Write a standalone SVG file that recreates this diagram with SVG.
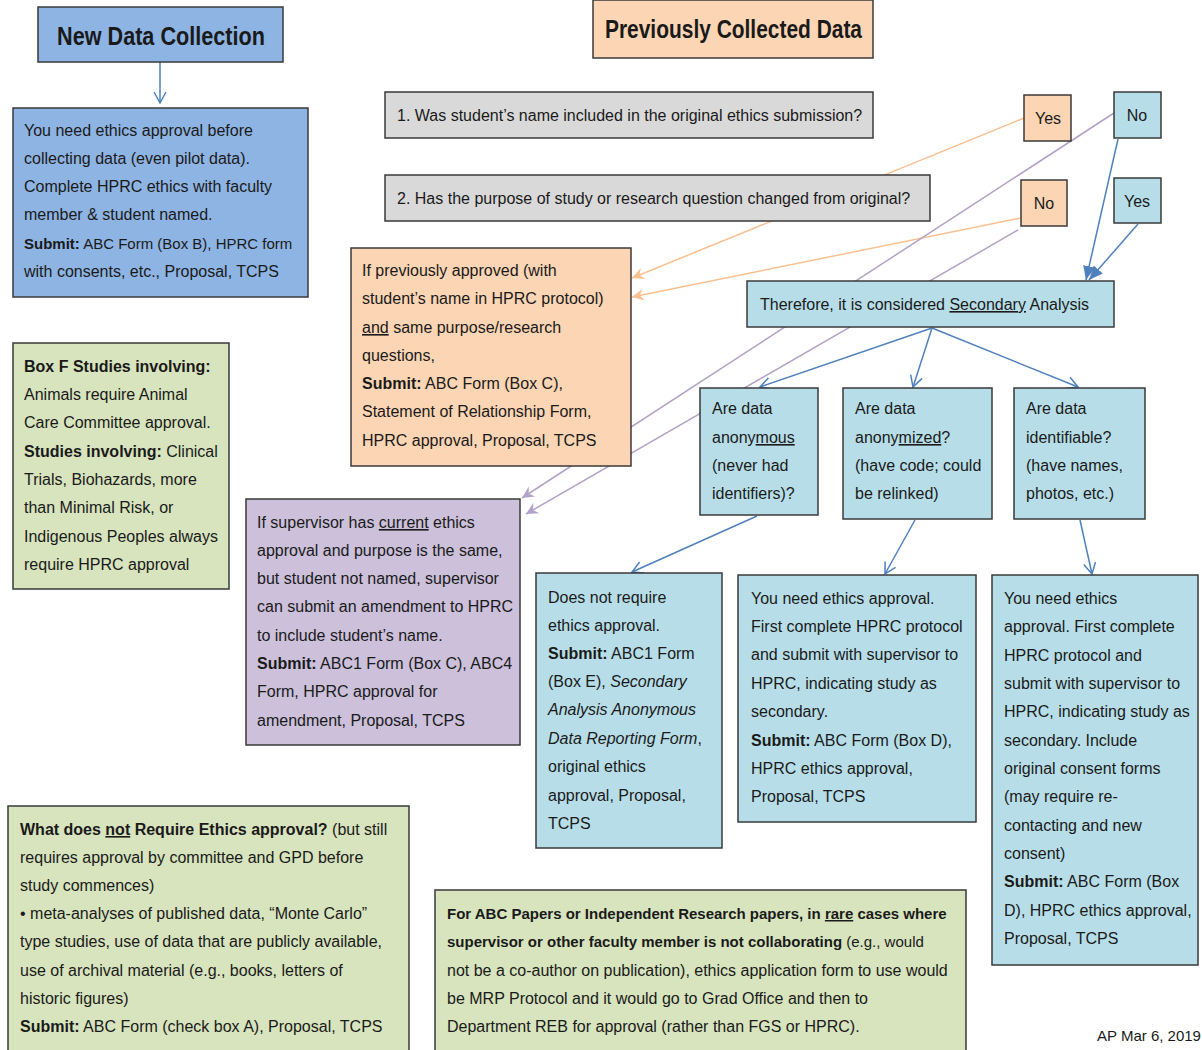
<svg xmlns="http://www.w3.org/2000/svg" width="1202" height="1050" viewBox="0 0 1202 1050">
<defs>
<style>
.box{stroke:#3a3a3a;stroke-width:1.5}
.blue{fill:#8eb4e3}.peach{fill:#fcd5b4}.gray{fill:#d9d9d9}.lb{fill:#b7dee8}.pur{fill:#ccc0da}.grn{fill:#d7e4bd}
text{font-family:"Liberation Sans",Arial,sans-serif;font-size:16px;fill:#1a1a1a}
.t{font-size:26px;font-weight:bold}
.s{font-size:15px}
.b{font-weight:bold}.u{text-decoration:underline}.i{font-style:italic}
.cb{stroke:#4f81bd;stroke-width:1.5;fill:none}
.co{stroke:#fac090;stroke-width:1.5;fill:none}
.cp{stroke:#b3a2c7;stroke-width:1.5;fill:none}
</style>
<marker id="ab" markerWidth="14" markerHeight="14" refX="12" refY="7" orient="auto" markerUnits="userSpaceOnUse"><path d="M1,1 L12,7 L1,13" fill="none" stroke="#4f81bd" stroke-width="1.5"/></marker>
<marker id="abf" markerWidth="16" markerHeight="14" refX="14" refY="7" orient="auto" markerUnits="userSpaceOnUse"><path d="M0,1 L14,7 L0,13 z" fill="#4f81bd"/></marker>
<marker id="ao" markerWidth="14" markerHeight="14" refX="12" refY="7" orient="auto" markerUnits="userSpaceOnUse"><path d="M0,1 L12,7 L0,13 L4,7 z" fill="#fac090"/></marker>
<marker id="ap" markerWidth="14" markerHeight="14" refX="12" refY="7" orient="auto" markerUnits="userSpaceOnUse"><path d="M0,1 L12,7 L0,13 L4,7 z" fill="#b3a2c7"/></marker>
</defs>
<rect width="1202" height="1050" fill="#ffffff"/>

<g id="connectors">
<line class="cb" x1="160" y1="62" x2="160" y2="103" marker-end="url(#ab)"/>
<line class="co" x1="1024" y1="118" x2="632" y2="278" marker-end="url(#ao)"/>
<line class="co" x1="1021" y1="218" x2="632" y2="297" marker-end="url(#ao)"/>
<line class="cp" x1="1114" y1="113" x2="522" y2="498" marker-end="url(#ap)"/>
<line class="cp" x1="1018" y1="230" x2="526" y2="514" marker-end="url(#ap)"/>
<line class="cb" x1="1118" y1="139" x2="1086" y2="280" marker-end="url(#abf)"/>
<line class="cb" x1="1138" y1="224" x2="1089" y2="280" marker-end="url(#abf)"/>
<line class="cb" x1="932" y1="328" x2="760" y2="387" marker-end="url(#ab)"/>
<line class="cb" x1="932" y1="328" x2="913" y2="387" marker-end="url(#ab)"/>
<line class="cb" x1="932" y1="328" x2="1078" y2="387" marker-end="url(#ab)"/>
<line class="cb" x1="757" y1="516" x2="632" y2="572" marker-end="url(#ab)"/>
<line class="cb" x1="915" y1="520" x2="885" y2="574" marker-end="url(#ab)"/>
<line class="cb" x1="1080" y1="520" x2="1092" y2="574" marker-end="url(#ab)"/>
</g>

<g id="new-data">
<rect class="box blue" x="38" y="7" width="245" height="55"/>
<text class="t" x="57" y="45" textLength="208" lengthAdjust="spacingAndGlyphs">New Data Collection</text>
</g>

<g id="new-data-approval">
<rect class="box blue" x="13" y="108" width="295" height="189"/>
<text x="24" y="136">You need  ethics approval before</text>
<text x="24" y="164">collecting data (even pilot data).</text>
<text x="24" y="192">Complete  HPRC ethics with faculty</text>
<text x="24" y="220">member  &amp; student named.</text>
<text x="24" y="249" class="s"><tspan class="b">Submit:</tspan> ABC Form (Box B), HPRC form</text>
<text x="24" y="277">with consents, etc.,  Proposal, TCPS</text>
</g>

<g id="prev-data">
<rect class="box peach" x="593" y="0" width="280" height="58"/>
<text class="t" x="605" y="38" textLength="257" lengthAdjust="spacingAndGlyphs">Previously Collected Data</text>
</g>

<g id="q1">
<rect class="box gray" x="385" y="92" width="488" height="46"/>
<text x="397" y="121">1. Was student’s name included in the original ethics submission?</text>
</g>

<g id="q2">
<rect class="box gray" x="385" y="175" width="545" height="46"/>
<text x="397" y="204">2. Has the purpose of study or research question changed from original?</text>
</g>

<g id="q1-yes">
<rect class="box peach" x="1024" y="95" width="47" height="46"/>
<text x="1048" y="124" text-anchor="middle">Yes</text>
</g>
<g id="q1-no">
<rect class="box lb" x="1114" y="92" width="47" height="46"/>
<text x="1137" y="121" text-anchor="middle">No</text>
</g>
<g id="q2-no">
<rect class="box peach" x="1021" y="180" width="46" height="46"/>
<text x="1044" y="209" text-anchor="middle">No</text>
</g>
<g id="q2-yes">
<rect class="box lb" x="1114" y="178" width="47" height="45"/>
<text x="1137" y="207" text-anchor="middle">Yes</text>
</g>

<g id="prev-approved">
<rect class="box peach" x="351" y="248" width="280" height="218"/>
<text x="362" y="276">If previously approved (with</text>
<text x="362" y="304">student’s name  in HPRC protocol)</text>
<text x="362" y="333"><tspan class="u">and</tspan> same purpose/research</text>
<text x="362" y="361">questions,</text>
<text x="362" y="389"><tspan class="b">Submit:</tspan> ABC Form (Box C),</text>
<text x="362" y="417">Statement  of Relationship Form,</text>
<text x="362" y="446">HPRC approval, Proposal, TCPS</text>
</g>

<g id="secondary">
<rect class="box lb" x="747" y="281" width="367" height="46"/>
<text x="760" y="310">Therefore,  it is considered <tspan class="u">Secondary</tspan> Analysis</text>
</g>

<g id="anonymous">
<rect class="box lb" x="700" y="388" width="118" height="127"/>
<text x="712" y="414">Are data</text>
<text x="712" y="443">anony<tspan class="u">mous</tspan></text>
<text x="712" y="471">(never had</text>
<text x="712" y="499">identifiers)?</text>
</g>

<g id="anonymized">
<rect class="box lb" x="843" y="388" width="149" height="131"/>
<text x="855" y="414">Are data</text>
<text x="855" y="443">anony<tspan class="u">mized</tspan>?</text>
<text x="855" y="471">(have code; could</text>
<text x="855" y="499">be relinked)</text>
</g>

<g id="identifiable">
<rect class="box lb" x="1014" y="388" width="131" height="131"/>
<text x="1026" y="414">Are data</text>
<text x="1026" y="443">identifiable?</text>
<text x="1026" y="471">(have names,</text>
<text x="1026" y="499">photos, etc.)</text>
</g>

<g id="box-f">
<rect class="box grn" x="13" y="343" width="216" height="246"/>
<text x="24" y="372" class="b">Box F Studies involving:</text>
<text x="24" y="400">Animals require Animal</text>
<text x="24" y="428">Care Committee  approval.</text>
<text x="24" y="457"><tspan class="b">Studies involving:</tspan>  Clinical</text>
<text x="24" y="485">Trials,  Biohazards, more</text>
<text x="24" y="513">than Minimal Risk, or</text>
<text x="24" y="542">Indigenous Peoples always</text>
<text x="24" y="570">require HPRC approval</text>
</g>

<g id="amendment">
<rect class="box pur" x="246" y="499" width="274" height="246"/>
<text x="257" y="528">If supervisor has <tspan class="u">current</tspan> ethics</text>
<text x="257" y="556">approval and purpose is the same,</text>
<text x="257" y="584">but student not named, supervisor</text>
<text x="257" y="612">can submit an amendment  to HPRC</text>
<text x="257" y="641">to include student’s name.</text>
<text x="257" y="669"><tspan class="b">Submit:</tspan> ABC1 Form (Box C), ABC4</text>
<text x="257" y="697">Form,  HPRC approval for</text>
<text x="257" y="726">amendment,  Proposal, TCPS</text>
</g>

<g id="no-approval">
<rect class="box lb" x="536" y="573" width="186" height="275"/>
<text x="548" y="603">Does not require</text>
<text x="548" y="631">ethics approval.</text>
<text x="548" y="659"><tspan class="b">Submit:</tspan> ABC1 Form</text>
<text x="548" y="687">(Box E), <tspan class="i">Secondary</tspan></text>
<text x="548" y="715" class="i">Analysis Anonymous</text>
<text x="548" y="744"><tspan class="i">Data Reporting Form</tspan>,</text>
<text x="548" y="772">original ethics</text>
<text x="548" y="801">approval, Proposal,</text>
<text x="548" y="829">TCPS</text>
</g>

<g id="need-approval-b">
<rect class="box lb" x="738" y="575" width="238" height="247"/>
<text x="751" y="604">You need  ethics approval.</text>
<text x="751" y="632">First complete  HPRC protocol</text>
<text x="751" y="660">and submit with supervisor to</text>
<text x="751" y="689">HPRC,  indicating study as</text>
<text x="751" y="717">secondary.</text>
<text x="751" y="746"><tspan class="b">Submit:</tspan> ABC Form (Box D),</text>
<text x="751" y="774">HPRC ethics approval,</text>
<text x="751" y="802">Proposal, TCPS</text>
</g>

<g id="need-approval-c">
<rect class="box lb" x="992" y="575" width="206" height="390"/>
<text x="1004" y="604">You need  ethics</text>
<text x="1004" y="632">approval. First complete</text>
<text x="1004" y="661">HPRC protocol and</text>
<text x="1004" y="689">submit with supervisor to</text>
<text x="1004" y="717">HPRC,  indicating study as</text>
<text x="1004" y="746">secondary.  Include</text>
<text x="1004" y="774">original consent forms</text>
<text x="1004" y="802">(may require re-</text>
<text x="1004" y="831">contacting and new</text>
<text x="1004" y="859">consent)</text>
<text x="1004" y="887"><tspan class="b">Submit:</tspan> ABC Form (Box</text>
<text x="1004" y="916">D), HPRC ethics approval,</text>
<text x="1004" y="944">Proposal, TCPS</text>
</g>

<g id="not-required">
<rect class="box grn" x="8" y="806" width="401" height="250"/>
<text x="20" y="835"><tspan class="b">What does <tspan class="u">not</tspan> Require Ethics approval?</tspan> (but still</text>
<text x="20" y="863">requires approval by committee and GPD before</text>
<text x="20" y="891">study commences)</text>
<text x="20" y="919">• meta-analyses of published data, “Monte Carlo”</text>
<text x="20" y="947">type studies, use of data that are publicly available,</text>
<text x="20" y="976">use of archival material  (e.g., books, letters of</text>
<text x="20" y="1004">historic figures)</text>
<text x="20" y="1032"><tspan class="b">Submit:</tspan> ABC Form (check box A), Proposal, TCPS</text>
</g>

<g id="abc-papers">
<rect class="box grn" x="435" y="890" width="531" height="166"/>
<text x="447" y="919" class="b s">For ABC Papers or Independent Research papers, in <tspan class="u">rare</tspan> cases where</text>
<text x="447" y="947" class="s"><tspan class="b">supervisor or other faculty  member is not collaborating</tspan>  (e.g.,  would</text>
<text x="447" y="976">not be a co-author on publication), ethics application form to use would</text>
<text x="447" y="1004">be MRP Protocol and it would go to Grad Office and then to</text>
<text x="447" y="1032">Department  REB for approval (rather than FGS or HPRC).</text>
</g>

<g id="footer">
<text x="1097" y="1041" class="s">AP Mar 6, 2019</text>
</g>
</svg>
